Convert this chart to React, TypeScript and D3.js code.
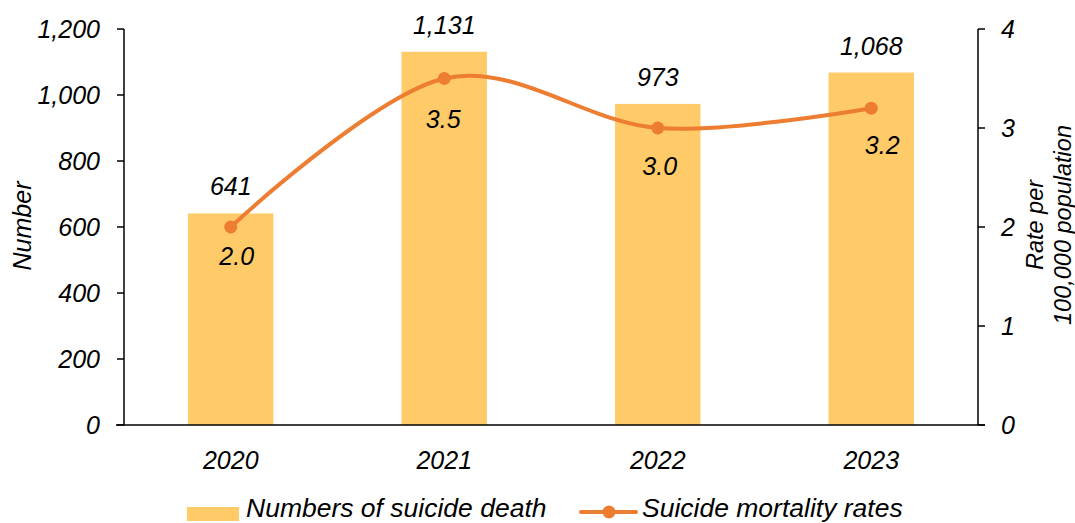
import React from "react";
import * as d3 from "d3";

const years = ["2020", "2021", "2022", "2023"];
const deaths = [641, 1131, 973, 1068];
const rates = [2.0, 3.5, 3.0, 3.2];
const leftTicks = [0, 200, 400, 600, 800, 1000, 1200];
const rightTicks = [0, 1, 2, 3, 4];
// manual label placement (offsets in px from the point)
const rateLabelDx = [6, -1, 2, 11];
const rateLabelDy = [29, 41, 38, 37];

const W = 1075;
const H = 523;
const left = 124;
const right = 978;
const top = 29;
const bottom = 425;
const FONT = "'Liberation Sans', Arial, sans-serif";
const BAR = "#FFCA68";
const LINE = "#ED7D31";

export default function App() {
  const x = d3.scaleBand<string>().domain(years).range([left, right]).paddingInner(0.6).paddingOuter(0.3);
  const yL = d3.scaleLinear().domain([0, 1200]).range([bottom, top]);
  const yR = d3.scaleLinear().domain([0, 4]).range([bottom, top]);
  const cx = (d: string) => (x(d) as number) + x.bandwidth() / 2;
  const line = d3
    .line<number>()
    .x((_, i) => cx(years[i]))
    .y((d) => yR(d))
    .curve(d3.curveCardinal.tension(0));
  const fs = 25;
  const lfs = 26.5;
  return (
    <svg
      width={W}
      height={H}
      style={{ position: "absolute", left: 0, top: 0, background: "#fff" }}
      fontFamily={FONT}
      fontStyle="italic"
    >
      {deaths.map((d, i) => (
        <rect key={i} x={x(years[i])} y={yL(d)} width={x.bandwidth()} height={bottom - yL(d)} fill={BAR} />
      ))}
      {/* axes */}
      <line x1={left} x2={left} y1={top} y2={bottom} stroke="#000" strokeWidth={1.5} />
      <line x1={right} x2={right} y1={top} y2={bottom} stroke="#000" strokeWidth={1.5} />
      <line x1={left - 8} x2={right + 7} y1={bottom} y2={bottom} stroke="#000" strokeWidth={1.5} />
      {leftTicks.map((t) => (
        <g key={"l" + t}>
          <line x1={left - 7} x2={left} y1={yL(t)} y2={yL(t)} stroke="#000" strokeWidth={1.5} />
          <text x={left - 24} y={yL(t)} dy="0.35em" textAnchor="end" fontSize={fs}>
            {d3.format(",")(t)}
          </text>
        </g>
      ))}
      {rightTicks.map((t) => (
        <g key={"r" + t}>
          <line x1={right} x2={right + 7} y1={yR(t)} y2={yR(t)} stroke="#000" strokeWidth={1.5} />
          <text x={right + 23} y={yR(t)} dy="0.35em" textAnchor="start" fontSize={fs}>
            {t}
          </text>
        </g>
      ))}
      {years.map((yv) => (
        <text key={yv} x={cx(yv)} y={469} textAnchor="middle" fontSize={fs}>
          {yv}
        </text>
      ))}
      {/* axis titles */}
      <text transform={`translate(31,226) rotate(-90)`} textAnchor="middle" fontSize={fs}>
        Number
      </text>
      <text transform={`translate(1043,225) rotate(-90)`} textAnchor="middle" fontSize={23.5}>
        Rate per
      </text>
      <text transform={`translate(1071,225) rotate(-90)`} textAnchor="middle" fontSize={23.5}>
        100,000 population
      </text>
      {/* line */}
      <path d={line(rates) || ""} fill="none" stroke={LINE} strokeWidth={4} />
      {rates.map((r, i) => (
        <circle key={i} cx={cx(years[i])} cy={yR(r)} r={6.5} fill={LINE} />
      ))}
      {/* labels */}
      {deaths.map((d, i) => (
        <text key={"bl" + i} x={cx(years[i])} y={yL(d) - 18} textAnchor="middle" fontSize={fs}>
          {d3.format(",")(d)}
        </text>
      ))}
      {rates.map((r, i) => (
        <text
          key={"rl" + i}
          x={cx(years[i]) + rateLabelDx[i]}
          y={yR(r) + rateLabelDy[i]}
          dy="0.35em"
          textAnchor="middle"
          fontSize={fs}
        >
          {r.toFixed(1)}
        </text>
      ))}
      {/* legend */}
      <rect x={187} y={507} width={52} height={14} fill={BAR} />
      <text x={246} y={517} fontSize={lfs}>
        Numbers of suicide death
      </text>
      <line x1={581} x2={636} y1={512} y2={512} stroke={LINE} strokeWidth={4} strokeLinecap="round" />
      <circle cx={609} cy={512} r={6.5} fill={LINE} />
      <text x={642} y={517} fontSize={lfs}>
        Suicide mortality rates
      </text>
    </svg>
  );
}
